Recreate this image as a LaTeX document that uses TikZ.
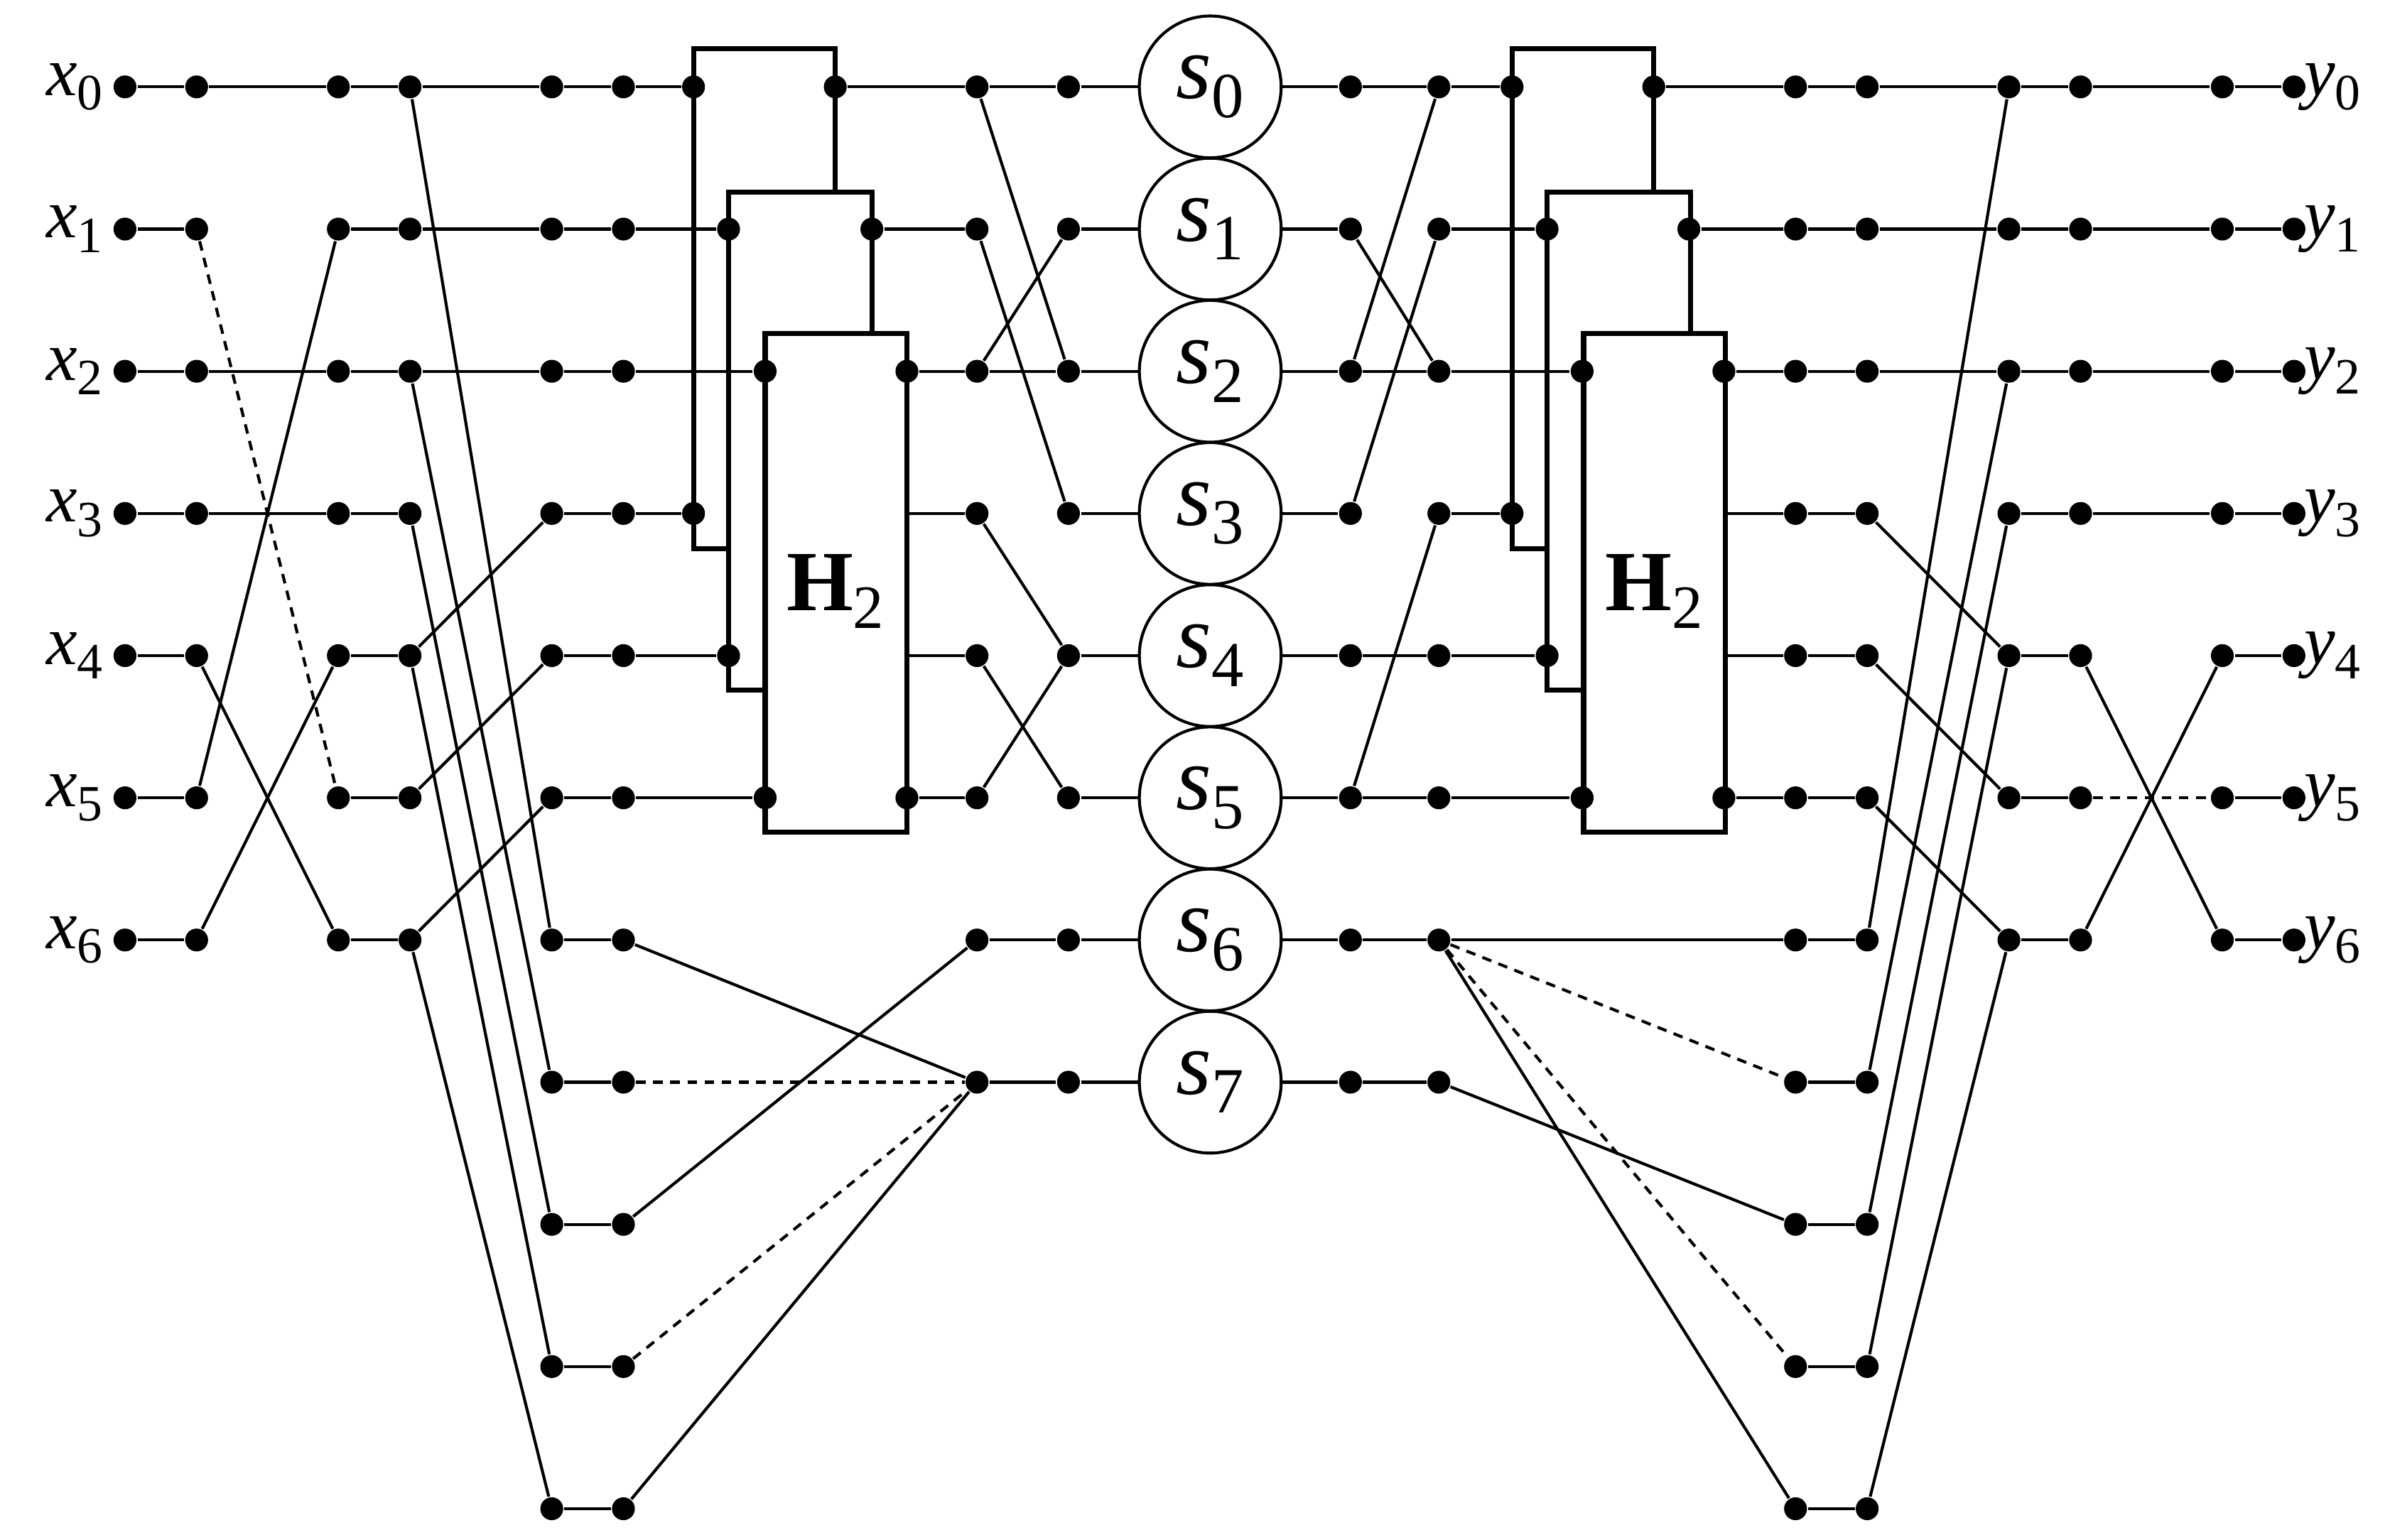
\documentclass[tikz,border=0pt]{standalone}
\usepackage{fontspec}
\setmainfont{Liberation Serif}[ItalicFont={Liberation Serif Italic},BoldFont={Liberation Serif Bold}]
\newcommand\lbl[2]{\fontsize{13}{15}\selectfont\textit{#1}\raisebox{-0.45ex}{\fontsize{9.5}{11}\selectfont #2}}
\newcommand\slbl[1]{\fontsize{17}{19}\selectfont\textit{s}\raisebox{-0.45ex}{\fontsize{12}{14}\selectfont #1}}
\begin{document}
\begin{tikzpicture}[x=0.01cm,y=-0.01cm,
  dot/.style={circle,fill=black,inner sep=0pt,minimum size=0.15cm},
  ln/.style={line width=0.55pt},
  dsh/.style={line width=0.55pt,dash pattern=on 1.8pt off 1.4pt},
  bx/.style={line width=0.95pt,fill=white},
  circ/.style={circle,draw,line width=0.55pt,minimum size=0.93cm,inner sep=0pt}]
\useasboundingbox (0,0) rectangle (1568,1010.5);
% boxes
\foreach \o in {0,537}{
  \draw[bx] (455+\o,32) rectangle (548+\o,360);
  \draw[bx] (478+\o,126) rectangle (572+\o,453);
  \draw[bx] (502+\o,219) rectangle (595+\o,546);
}
\node at (548,388) {\fontsize{16}{18}\selectfont\textbf{H}\raisebox{-0.45ex}{\fontsize{11.5}{13}\selectfont 2}};
\node at (1085,388) {\fontsize{16}{18}\selectfont\textbf{H}\raisebox{-0.45ex}{\fontsize{11.5}{13}\selectfont 2}};
% dots
\foreach \c/\x/\rs in {a/82/{0,...,6},b/129/{0,...,6},c/222/{0,...,6},d/269/{0,...,6},
  e/362/{0,...,10},f/409/{0,...,10},g/641/{0,...,7},h/701/{0,...,7},
  i/886/{0,...,7},j/944/{0,...,7},k/1178/{0,...,10},l/1225/{0,...,10},
  m/1318/{0,...,6},n/1365/{0,...,6},o/1458/{0,...,6},p/1505/{0,...,6}}{
  \foreach \r in \rs { \node[dot] (\c-\r) at (\x,{57+93.3*\r}) {}; }
}
% box pins
\foreach \c/\x/\rs in {A/455/{0,3},Ao/548/{0},B/478/{1,4},Bo/572/{1},C/502/{2,5},Co/595/{2,5},
  D/992/{0,3},Do/1085/{0},E/1015/{1,4},Eo/1108/{1},F/1038/{2,5},Fo/1131/{2,5}}{
  \foreach \r in \rs { \node[dot] (\c-\r) at (\x,{57+93.3*\r}) {}; }
}
\foreach \c/\x in {Co/595,Fo/1131}{
  \foreach \r in {3,4} { \coordinate (\c-\r) at (\x,{57+93.3*\r}); }
}
% circles
\foreach \r in {0,...,7}{ \node[circ] (S-\r) at (794,{57+93.3*\r}) {\slbl{\r}}; }
% labels
\foreach \r in {0,...,6}{
  \node[anchor=east,inner sep=0pt] (xl-\r) at (68,{57+93.3*\r}) {\lbl{x}{\r}};
  \node[anchor=west,inner sep=0pt] (yl-\r) at (1511,{57+93.3*\r}) {\lbl{y}{\r}};
}
% edges
\begin{scope}[ln]
\foreach \r in {0,...,6}{ \draw (a-\r) -- (b-\r); \draw (c-\r) -- (d-\r); \draw (m-\r) -- (n-\r); \draw (o-\r) -- (p-\r); }
\foreach \r in {0,...,10}{ \draw (e-\r) -- (f-\r); \draw (k-\r) -- (l-\r); }
\foreach \r in {0,...,7}{ \draw (h-\r) -- (S-\r); \draw (S-\r) -- (i-\r); }
\foreach \u/\v in {b-0/c-0,b-2/c-2,b-3/c-3,b-5/c-1,b-6/c-4,b-4/c-6,
  d-0/e-0,d-1/e-1,d-2/e-2,d-4/e-3,d-5/e-4,d-6/e-5,d-0/e-6,d-2/e-7,d-3/e-8,d-4/e-9,d-6/e-10,
  f-0/A-0,f-1/B-1,f-2/C-2,f-3/A-3,f-4/B-4,f-5/C-5,
  Ao-0/g-0,Bo-1/g-1,Co-2/g-2,Co-3/g-3,Co-4/g-4,Co-5/g-5,
  g-0/h-0,g-2/h-2,g-0/h-2,g-1/h-3,g-2/h-1,g-3/h-4,g-4/h-5,g-5/h-4,
  f-6/g-7,f-8/g-6,f-10/g-7,g-6/h-6,g-7/h-7,
  i-0/j-0,i-2/j-0,i-1/j-2,i-3/j-1,i-2/j-2,i-4/j-4,i-5/j-5,i-5/j-3,i-6/j-6,i-7/j-7,
  j-0/D-0,j-1/E-1,j-2/F-2,j-3/D-3,j-4/E-4,j-5/F-5,
  Do-0/k-0,Eo-1/k-1,Fo-2/k-2,Fo-3/k-3,Fo-4/k-4,Fo-5/k-5,j-6/k-6,j-7/k-8,j-6/k-10,
  l-0/m-0,l-1/m-1,l-2/m-2,l-3/m-4,l-4/m-5,l-5/m-6,l-6/m-0,l-7/m-2,l-8/m-3,l-9/m-4,l-10/m-6,
  n-0/o-0,n-1/o-1,n-2/o-2,n-3/o-3,n-4/o-6,n-6/o-4}{
  \draw (\u) -- (\v);
}
\end{scope}
\foreach \u/\v in {b-1/c-5,f-7/g-7,f-9/g-7,j-6/k-7,j-6/k-9,n-5/o-5}{ \draw[dsh] (\u) -- (\v); }
\end{tikzpicture}
\end{document}
